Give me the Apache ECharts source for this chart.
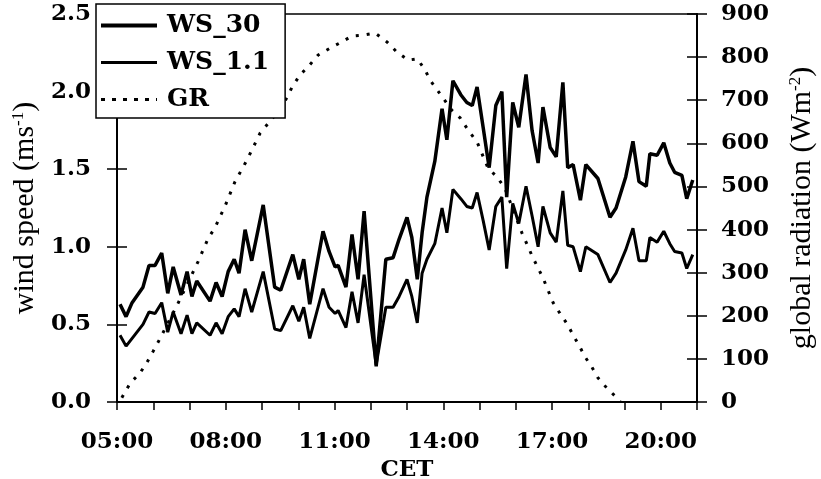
<!DOCTYPE html>
<html>
<head>
<meta charset="utf-8">
<script src="https://cdn.jsdelivr.net/npm/echarts@6/dist/echarts.min.js"></script>
<style>
  html, body { margin: 0; padding: 0; background: #fff; }
  #chart { width: 821px; height: 479px; }
</style>
</head>
<body>
<div id="chart"></div>
<script>
// times in minutes after midnight (CET)
const wsTimes = [305, 315, 325, 343, 353, 363, 374, 384, 393, 406, 416, 424, 432, 454, 464, 474, 484, 494, 502, 512,
  523, 542, 561, 571, 591, 601, 609, 619, 641, 651, 661, 666, 679, 689, 699, 709, 729, 745, 757, 767,
  780, 788, 797, 805, 813, 826, 838, 846, 856, 869, 879, 888, 896, 906, 916, 927, 937, 945, 955, 965,
  977, 987, 997, 1005, 1017, 1027, 1038, 1046, 1055, 1067, 1076, 1096, 1116, 1126, 1142, 1154, 1164, 1176, 1182, 1194,
  1205, 1215, 1223, 1235, 1243, 1253]
const ws30 = [0.63, 0.55, 0.64, 0.74, 0.88, 0.88, 0.96, 0.70, 0.87, 0.69, 0.84, 0.68, 0.78, 0.65, 0.77, 0.68, 0.84, 0.92, 0.83, 1.11,
  0.91, 1.27, 0.74, 0.72, 0.95, 0.79, 0.92, 0.63, 1.10, 0.97, 0.87, 0.88, 0.74, 1.08, 0.79, 1.23, 0.23, 0.92, 0.93, 1.05,
  1.19, 1.06, 0.79, 1.09, 1.32, 1.55, 1.89, 1.69, 2.07, 1.98, 1.93, 1.91, 2.03, 1.77, 1.51, 1.91, 2.00, 1.32, 1.93, 1.77,
  2.11, 1.75, 1.54, 1.90, 1.64, 1.58, 2.06, 1.51, 1.53, 1.30, 1.53, 1.44, 1.19, 1.25, 1.45, 1.68, 1.42, 1.39, 1.60, 1.59,
  1.67, 1.54, 1.48, 1.46, 1.31, 1.43]
const ws11 = [0.43, 0.36, 0.41, 0.50, 0.58, 0.57, 0.64, 0.45, 0.58, 0.44, 0.56, 0.44, 0.51, 0.43, 0.51, 0.44, 0.55, 0.60, 0.55, 0.73,
  0.58, 0.84, 0.47, 0.46, 0.62, 0.52, 0.61, 0.41, 0.73, 0.61, 0.57, 0.59, 0.48, 0.71, 0.51, 0.82, 0.24, 0.61, 0.61, 0.68,
  0.79, 0.68, 0.51, 0.83, 0.92, 1.02, 1.25, 1.09, 1.37, 1.31, 1.26, 1.25, 1.35, 1.17, 0.98, 1.26, 1.32, 0.86, 1.28, 1.15,
  1.39, 1.20, 1.00, 1.26, 1.09, 1.03, 1.36, 1.01, 1.00, 0.84, 1.00, 0.95, 0.77, 0.83, 0.98, 1.12, 0.91, 0.91, 1.06, 1.03,
  1.10, 1.02, 0.97, 0.96, 0.86, 0.95]

const grTimes = [308, 322, 338, 350, 360, 370, 399, 434, 451, 462, 479, 495, 515, 537, 558, 573, 590, 603, 616, 633,
  653, 669, 689, 707, 727, 747, 763, 782, 797, 810, 818, 831, 854, 868, 881, 896, 914, 929, 942, 970,
  988, 1005, 1022, 1033, 1046, 1055, 1066, 1075, 1086, 1096, 1111, 1128, 1133]
const grValues = [10, 44, 67, 93, 118, 144, 223, 325, 380, 404, 455, 510, 561, 624, 659, 684, 731, 759, 777, 805,
  821, 833, 849, 851, 856, 835, 812, 793, 796, 770, 747, 722, 677, 659, 631, 603, 543, 522, 496, 393,
  336, 288, 230, 206, 179, 155, 128, 104, 81, 56, 32, 9, 0]

const timeLabels = ['05:00', '08:00', '11:00', '14:00', '17:00', '20:00']

const boldFont = { fontFamily: 'DejaVu Serif', fontWeight: 'bold', fontSize: 23, color: '#000' }
const nameFont = {
  fontFamily: 'Liberation Serif', fontSize: 30, color: '#000',
  rich: { sup: { fontFamily: 'Liberation Serif', fontSize: 17, verticalAlign: 'top', padding: [0, 0, 12, 0], color: '#000' } }
}
const axisLine = { show: true, lineStyle: { color: '#000', width: 2 } }

const myChart = echarts.init(document.getElementById('chart'))
myChart.setOption({
  animation: false,
  backgroundColor: '#fff',
  grid: {
    left: 117, right: 124, top: 14, bottom: 77,
    outerBoundsMode: 'none',
    show: true, borderColor: '#000', borderWidth: 1.5
  },
  legend: {
    orient: 'vertical',
    left: 96, top: 4,
    padding: [9, 16, 6, 3],
    itemGap: 12,
    itemWidth: 56,
    itemHeight: 14,
    backgroundColor: '#fff',
    borderColor: '#000',
    borderWidth: 1.5,
    borderRadius: 0,
    itemStyle: { opacity: 0 },
    textStyle: Object.assign({}, boldFont, { fontSize: 25, padding: [0, 0, 0, 5] }),
    data: [
      { name: 'WS_30', lineStyle: { color: '#000', width: 4 } },
      { name: 'WS_1.1', lineStyle: { color: '#000', width: 3 } },
      { name: 'GR', lineStyle: { color: '#000', width: 3, type: [4, 7] } }
    ]
  },
  xAxis: {
    type: 'value',
    min: 300, max: 1260, interval: 60,
    name: 'CET',
    nameLocation: 'middle',
    nameGap: 48,
    nameTextStyle: boldFont,
    axisLine: axisLine,
    axisTick: { show: true, length: 8, lineStyle: { color: '#000', width: 1.5 } },
    axisLabel: Object.assign({}, boldFont, {
      margin: 29,
      formatter: v => ((v - 300) % 180 === 0 ? timeLabels[(v - 300) / 180] : '')
    }),
    splitLine: { show: false }
  },
  yAxis: [{
    type: 'value', position: 'left',
    min: 0, max: 2.5, interval: 0.5,
    name: 'wind speed (ms{sup|-1})',
    nameLocation: 'middle', nameGap: 68,
    nameTextStyle: nameFont,
    axisLine: axisLine,
    axisTick: { show: true, length: 10, lineStyle: { color: '#000', width: 1.5 } },
    axisLabel: Object.assign({}, boldFont, { margin: 26, formatter: v => v.toFixed(1) }),
    splitLine: { show: false }
  }, {
    type: 'value', position: 'left',
    min: 0, max: 2.5, interval: 0.5,
    axisLine: { show: false },
    axisTick: { show: true, inside: true, length: 10, lineStyle: { color: '#000', width: 1.5 } },
    axisLabel: { show: false },
    splitLine: { show: false }
  }, {
    type: 'value', position: 'right',
    min: 0, max: 900, interval: 100,
    name: 'global radiation (Wm{sup|-2})',
    nameLocation: 'middle', nameGap: 90,
    nameTextStyle: nameFont,
    axisLine: axisLine,
    axisTick: { show: true, length: 10, lineStyle: { color: '#000', width: 1.5 } },
    axisLabel: Object.assign({}, boldFont, { margin: 24 }),
    splitLine: { show: false }
  }, {
    type: 'value', position: 'right',
    min: 0, max: 900, interval: 100,
    axisLine: { show: false },
    axisTick: { show: true, inside: true, length: 10, lineStyle: { color: '#000', width: 1.5 } },
    axisLabel: { show: false },
    splitLine: { show: false }
  }],
  series: [{
    name: 'WS_30',
    type: 'line',
    yAxisIndex: 0,
    symbol: 'none',
    data: wsTimes.map((t, i) => [t, ws30[i]]),
    lineStyle: { color: '#000', width: 3.5 },
    itemStyle: { color: '#000' }
  }, {
    name: 'WS_1.1',
    type: 'line',
    yAxisIndex: 0,
    symbol: 'none',
    data: wsTimes.map((t, i) => [t, ws11[i]]),
    lineStyle: { color: '#000', width: 3 },
    itemStyle: { color: '#000' }
  }, {
    name: 'GR',
    type: 'line',
    yAxisIndex: 2,
    symbol: 'none',
    data: grTimes.map((t, i) => [t, grValues[i]]),
    lineStyle: { color: '#000', width: 3, type: [3, 8] },
    itemStyle: { color: '#000' }
  }]
})
</script>
</body>
</html>
